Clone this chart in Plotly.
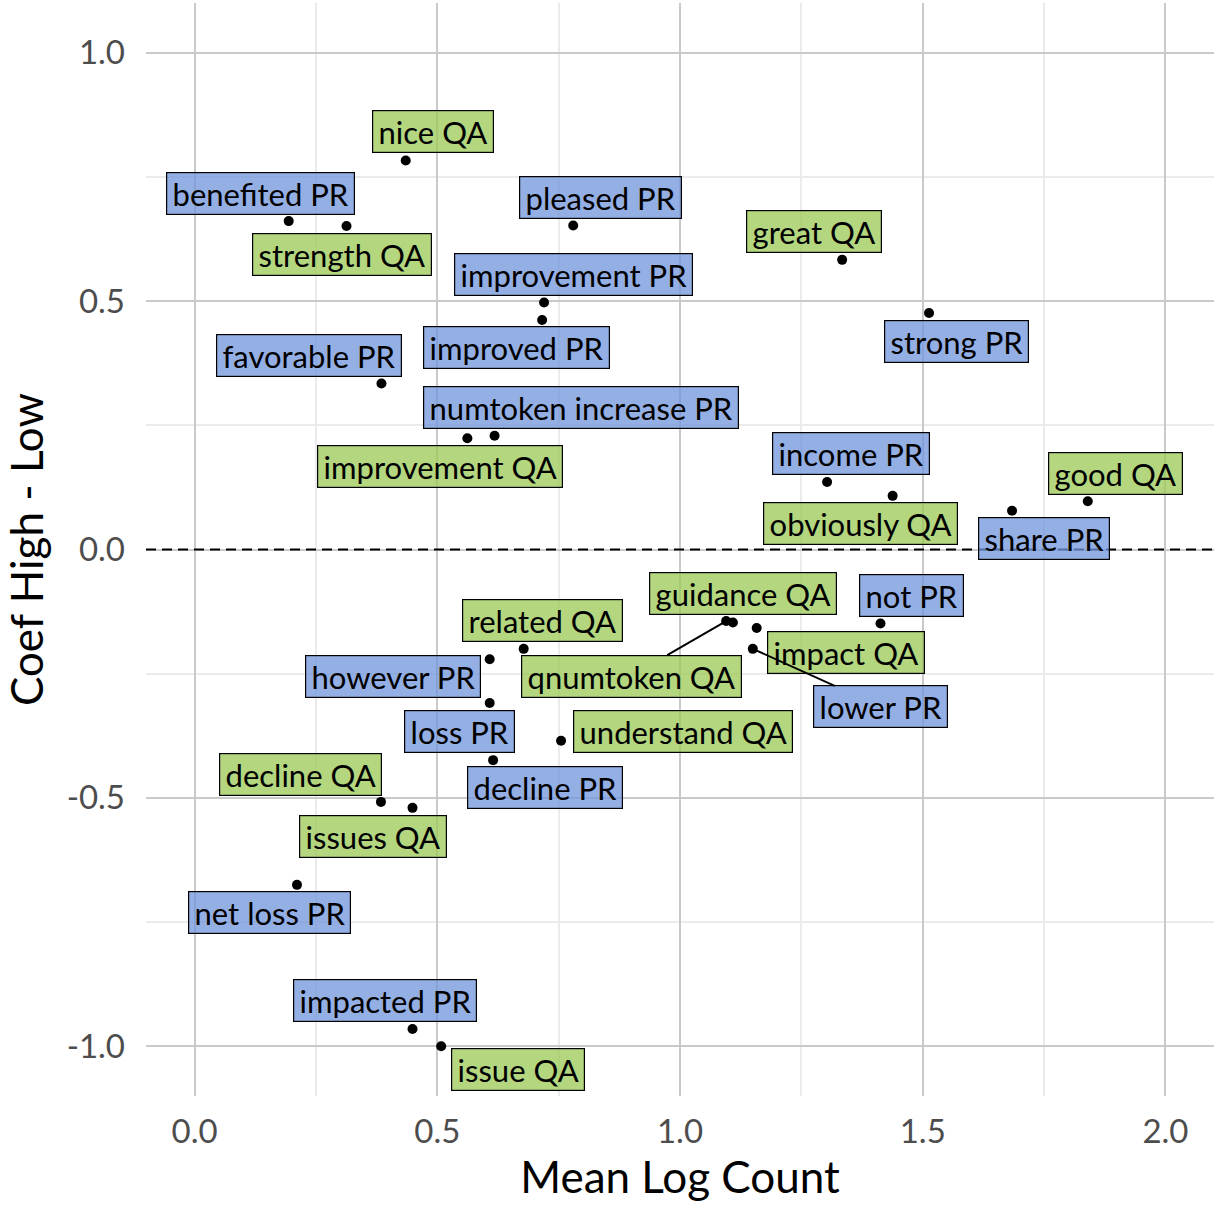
import plotly.graph_objects as go

# ---- data ----
words = ["nice", "benefited", "strength", "pleased", "great", "strong",
         "improvement", "improved", "favorable", "numtoken increase",
         "improvement", "income", "obviously", "share", "good",
         "qnumtoken", "guidance", "impact", "lower", "not", "related",
         "however", "loss", "understand", "decline", "decline", "issues",
         "net loss", "impacted", "issue"]
source = ["QA", "PR", "QA", "PR", "QA", "PR",
          "PR", "PR", "PR", "PR",
          "QA", "PR", "QA", "PR", "QA",
          "QA", "QA", "QA", "PR", "PR", "QA",
          "PR", "PR", "QA", "PR", "QA", "QA",
          "PR", "PR", "QA"]
mean_log_count = [0.435, 0.194, 0.313, 0.780, 1.334, 1.513,
                  0.720, 0.716, 0.385, 0.618,
                  0.562, 1.303, 1.438, 1.684, 1.840,
                  1.095, 1.109, 1.158, 1.150, 1.413, 0.678,
                  0.608, 0.608, 0.755, 0.615, 0.384, 0.449,
                  0.211, 0.449, 0.508]
coef_diff = [0.783, 0.661, 0.651, 0.652, 0.583, 0.476,
             0.497, 0.462, 0.334, 0.229,
             0.224, 0.136, 0.108, 0.078, 0.097,
             -0.144, -0.147, -0.158, -0.200, -0.149, -0.200,
             -0.221, -0.309, -0.385, -0.424, -0.508, -0.520,
             -0.675, -0.965, -1.000]
x_ticks = [0.0, 0.5, 1.0, 1.5, 2.0]
x_tick_labels = ["0.0", "0.5", "1.0", "1.5", "2.0"]
y_ticks = [-1.0, -0.5, 0.0, 0.5, 1.0]
y_tick_labels = ["-1.0", "-0.5", "0.0", "0.5", "1.0"]

# ---- label placement (pixel offsets from point, repel-style) ----
label_dx = [27, -28, -4, 27, -28, 27, 29, -26, -72, 86,
            -27, 24, -32, 32, 28, -95, 10, 89, 128, 31, 19,
            -97, -30, 122, 52, -80, -40, -27, -28, 77]
label_dy = [-29, -28, 28, -28, -28, 28, -28, 28, -28, -28,
            28, -28, 28, 28, -28, 55, -29, 24, 58, -28, -28,
            17, 28, -9, 27, -27, 29, 28, -28, 23]
draw_segment = ["qnumtoken QA", "lower PR"]

fill = {"PR": "rgba(112,148,219,0.75)", "QA": "rgba(154,200,84,0.75)"}
FONT = "Lato, 'Noto Sans', sans-serif"

fig = go.Figure()
fig.add_trace(go.Scatter(
    x=mean_log_count, y=coef_diff, mode="markers",
    marker=dict(color="black", size=10), hoverinfo="skip", showlegend=False))

for w, s, xv, yv, dx, dy in zip(words, source, mean_log_count, coef_diff,
                                label_dx, label_dy):
    lab = f"{w} {s}"
    seg = lab in draw_segment
    fig.add_annotation(
        x=xv, y=yv, xref="x", yref="y", text="\u2009" + lab + "\u2009",
        showarrow=True, ax=dx, ay=dy, axref="pixel", ayref="pixel",
        arrowhead=0, arrowwidth=2 if seg else 0.1,
        arrowcolor="black" if seg else "rgba(0,0,0,0)", standoff=0,
        font=dict(family=FONT, size=31, color="black"),
        bgcolor=fill[s], bordercolor="black", borderwidth=1.2, borderpad=1.5)

fig.add_shape(type="line", xref="paper", x0=0, x1=1, yref="y", y0=0, y1=0,
              line=dict(color="black", width=2, dash="10px,6px"), layer="above")

axis_common = dict(
    showline=False, zeroline=False, ticks="", automargin=False,
    tickfont=dict(family=FONT, size=33, color="#4d4d4d"),
    showgrid=True, gridcolor="#c9c9c9", gridwidth=2,
    minor=dict(showgrid=True, gridcolor="#ebebeb", gridwidth=2),
    title_font=dict(family=FONT, size=44, color="black"))

fig.update_xaxes(range=[-0.1, 2.1], tickmode="array", tickvals=x_ticks,
                 ticktext=x_tick_labels,
                 minor_tickvals=[0.25, 0.75, 1.25, 1.75],
                 title_text="Mean Log Count", title_standoff=13,
                 ticklabelstandoff=13, **axis_common)
fig.update_yaxes(range=[-1.1, 1.1], tickmode="array", tickvals=y_ticks,
                 ticktext=y_tick_labels,
                 minor_tickvals=[-0.75, -0.25, 0.25, 0.75],
                 title_text="Coef High - Low", title_standoff=12,
                 ticklabelstandoff=20, **axis_common)

fig.update_layout(
    width=1215, height=1206, plot_bgcolor="white", paper_bgcolor="white",
    margin=dict(l=146, r=1, t=3, b=110), showlegend=False,
    font=dict(family=FONT))

fig.write_html("out.html", config={"displayModeBar": False},
               post_script="document.body.style.margin='0px';")
